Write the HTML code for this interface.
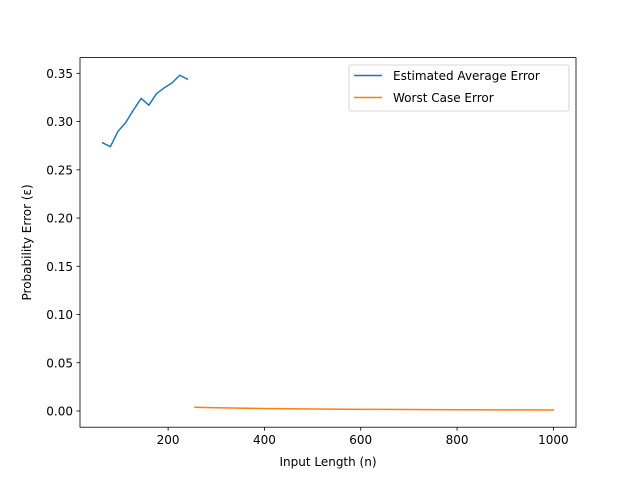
<!DOCTYPE html>
<html><head><meta charset="utf-8"><style>
body{margin:0;background:#fff;}
svg text{font-family:"DejaVu Sans","Liberation Sans",sans-serif;font-size:12px;fill:#000;}
</style></head><body>
<svg id="chart" width="640" height="480" xmlns="http://www.w3.org/2000/svg">
<rect width="640" height="480" fill="#fff"/>
<g id="plot"></g>
</svg>
<script>
const avgN = [64,80,96,112,128,144,160,176,192,208,224,240];
const avgErr = [0.278,0.274,0.290,0.299,0.312,0.324,0.317,0.329,0.335,0.340,0.348,0.344];
const worstN = [256,300,400,500,600,700,800,900,1000];
const worstErr = [0.0039,0.0034,0.0026,0.0021,0.0017,0.0015,0.0013,0.0011,0.0010];
const xTicks = [200,400,600,800,1000];
const yTicks = [0,0.05,0.10,0.15,0.20,0.25,0.30,0.35];
const L=80,R=576,T=57.6,B=427.2;
const xMin=17,xMax=1047,yMin=-0.0168,yMax=0.3663;
const X=v=>L+(v-xMin)/(xMax-xMin)*(R-L);
const Y=v=>B-(v-yMin)/(yMax-yMin)*(B-T);
const ns="http://www.w3.org/2000/svg";
const g=document.getElementById('plot');
function mk(t,a,p){const e=document.createElementNS(ns,t);for(const k in a)e.setAttribute(k,a[k]);(p||g).appendChild(e);return e;}
function line(xs,ys,c,name){
  const e=mk('polyline',{points:xs.map((x,i)=>X(x)+','+Y(ys[i])).join(' '),fill:'none',stroke:c,'stroke-width':1.5,'stroke-linejoin':'round','stroke-linecap':'square'});
  
  
}
line(avgN,avgErr,'#1f77b4','estimated-average-error-line');
line(worstN,worstErr,'#ff7f0e','worst-case-error-line');
const fr=mk('rect',{x:L,y:T,width:R-L,height:B-T,fill:'none',stroke:'#000','stroke-width':0.8});


xTicks.forEach(v=>{
  mk('line',{x1:X(v),x2:X(v),y1:B,y2:B+3.5,stroke:'#000','stroke-width':0.8});
  const t=mk('text',{x:X(v),y:B+17,'text-anchor':'middle'});t.textContent=v;
  
  
});
yTicks.forEach(v=>{
  mk('line',{x1:L-3.5,x2:L,y1:Y(v),y2:Y(v),stroke:'#000','stroke-width':0.8});
  const t=mk('text',{x:L-7,y:Y(v)+4.5,'text-anchor':'end'});t.textContent=v.toFixed(2);
  
  
});
const xl=mk('text',{x:(L+R)/2,y:466,'text-anchor':'middle'});xl.textContent='Input Length (n)';


const yl=mk('text',{x:(T+B)/2,y:0,'text-anchor':'middle',transform:'translate(31,'+(T+B)+') rotate(-90)'});
yl.setAttribute('x',(T+B)/2);
yl.setAttribute('transform','translate(31,'+(T+B)+') rotate(-90)');
yl.setAttribute('x',0);
yl.setAttribute('transform','translate(31,'+((T+B)/2)+') rotate(-90)');
yl.textContent='Probability Error (ε)';


const lg=mk('g',{});


mk('rect',{x:349,y:65,width:220,height:46,rx:2,fill:'#fff',stroke:'#ccc','stroke-width':0.8},lg);
mk('line',{x1:354,x2:382,y1:75.5,y2:75.5,stroke:'#1f77b4','stroke-width':1.5},lg);
mk('line',{x1:354,x2:382,y1:97.5,y2:97.5,stroke:'#ff7f0e','stroke-width':1.5},lg);
const t1=mk('text',{x:393,y:80},lg);t1.textContent='Estimated Average Error';


const t2=mk('text',{x:393,y:102},lg);t2.textContent='Worst Case Error';


</script>
</body></html>
